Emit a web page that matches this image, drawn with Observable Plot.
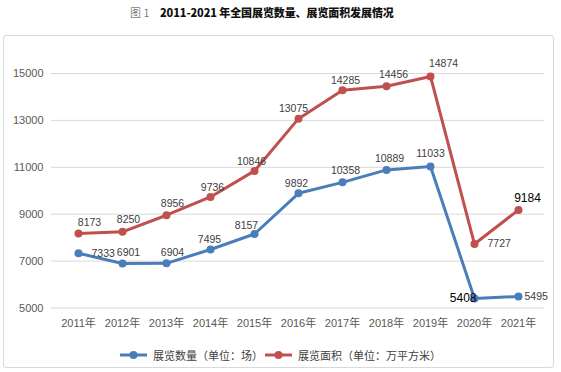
<!DOCTYPE html>
<html><head><meta charset="utf-8">
<script src="https://cdn.jsdelivr.net/npm/d3@7"></script>
<script src="https://cdn.jsdelivr.net/npm/@observablehq/plot@0.6"></script>
<style>
body{margin:0;background:#fff;font-family:"Liberation Sans","Noto Sans CJK SC",sans-serif;}
#wrap{position:relative;width:561px;height:372px;overflow:hidden;}
#title{position:absolute;left:0;top:3px;width:561px;height:18px;font-size:11px;line-height:18px;color:#111;}
#title .fig{position:absolute;left:130px;font-family:"Noto Sans CJK SC",serif;font-weight:300;color:#444;}
#title b{position:absolute;left:160px;font-family:"Noto Sans CJK SC",sans-serif;font-weight:900;letter-spacing:-0.1px;}
#frame{position:absolute;left:3px;top:35px;width:551px;height:333px;border:1px solid #d9d9d9;border-radius:3px;box-sizing:border-box;}
#chart{position:absolute;left:0;top:0;}
#legend{position:absolute;top:346px;left:0;width:561px;height:18px;font-size:11px;color:#404040;}
.lg{position:absolute;top:0;display:flex;align-items:center;height:18px;}
.lg svg{margin-right:6px;}
</style></head>
<body>
<div id="wrap">
  <div id="frame"></div>
  <div id="title"><span class="fig">图 1</span><b>2011-2021 年全国展览数量、展览面积发展情况</b></div>
  <div id="chart"></div>
  <div id="legend"></div>
</div>
<script>
const years = ["2011年","2012年","2013年","2014年","2015年","2016年","2017年","2018年","2019年","2020年","2021年"];
const counts = [7333, 6901, 6904, 7495, 8157, 9892, 10358, 10889, 11033, 5408, 5495];
const areas = [8173, 8250, 8956, 9736, 10846, 13075, 14285, 14456, 14874, 7727, 9184];
const yTicks = [5000, 7000, 9000, 11000, 13000, 15000];
const seriesNames = ["展览数量（单位：场）", "展览面积（单位：万平方米）"];
const colors = ["#4a7ebb", "#c0504d"];

// label placement offsets (dx, dy, anchor) — layout only
const countPlace = [[13,0,"start"],[6,-10.6],[6,-10.6],[-1,-9.7],[-8,-8.3],[-2,-9.7],[3,-12],[3,-11],[0,-12.7],[2,0,"end",1],[6,0,"start"]];
const areaPlace = [[11,-10.6],[6,-11.7],[6,-11.7],[2,-9.4],[-3,-9],[-5,-9.7],[3,-9.7],[7,-12],[13,-12.7],[13,0,"start"],[9,-11.7,"middle",1]];

const rows = [];
years.forEach((y, i) => {
  rows.push({year: y, value: counts[i], s: seriesNames[0], i, p: countPlace[i]});
  rows.push({year: y, value: areas[i], s: seriesNames[1], i, p: areaPlace[i]});
});

const font = `"Liberation Sans","Noto Sans CJK SC",sans-serif`;
const labelMarks = rows.map(r => Plot.text([r], {
  x: "year", y: "value", text: d => String(d.value),
  dx: r.p[0], dy: r.p[1], textAnchor: r.p[2] || "middle",
  fill: r.p[3] ? "#000" : "#404040", fontSize: r.p[3] ? 12 : 10.5
}));

const chart = Plot.plot({
  width: 561, height: 372,
  marginLeft: 51, marginRight: 17, marginTop: 73, marginBottom: 64.5,
  style: {fontFamily: font, fontSize: "11px", color: "#595959", background: "transparent"},
  x: {type: "point", domain: years, range: [74, 521], padding: 0, label: null},
  y: {domain: [5000, 15000], ticks: yTicks, label: null},
  color: {domain: seriesNames, range: colors},
  marks: [
    Plot.gridY(yTicks, {stroke: "#d9d9d9", strokeOpacity: 1, strokeWidth: 1}),
    Plot.axisY({ticks: yTicks, tickSize: 0, tickPadding: 8, label: null, tickFormat: d => String(d), fill: "#595959"}),
    Plot.axisX({tickSize: 0, tickPadding: 11, label: null, fill: "#595959"}),
    Plot.line(rows, {x: "year", y: "value", stroke: "s", z: "s", strokeWidth: 3, curve: "linear"}),
    Plot.dot(rows, {x: "year", y: "value", fill: "s", r: 4, stroke: null}),
    ...labelMarks
  ]
});
document.getElementById("chart").appendChild(chart);

// legend
const lg = document.getElementById("legend");
const lefts = [120, 265];
seriesNames.forEach((n, k) => {
  const d = document.createElement("div");
  d.className = "lg";
  d.style.left = lefts[k] + "px";
  d.innerHTML = `<svg width="27" height="10"><line x1="0" y1="5" x2="27" y2="5" stroke="${colors[k]}" stroke-width="3"/><circle cx="13.5" cy="5" r="4" fill="${colors[k]}"/></svg><span>${n}</span>`;
  lg.appendChild(d);
});
</script>
</body></html>
